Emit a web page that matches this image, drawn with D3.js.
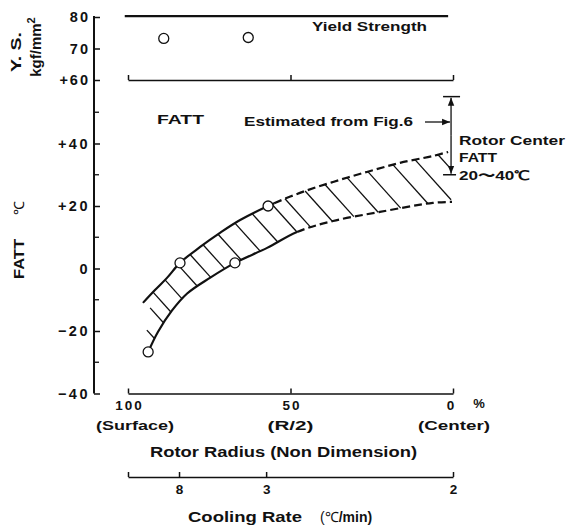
<!DOCTYPE html>
<html>
<head>
<meta charset="utf-8">
<script src="https://cdn.jsdelivr.net/npm/d3@7"></script>
<style>
  body { margin: 0; background: #fff; }
  text { font-family: "Liberation Sans", Arial, sans-serif; fill: #111; }
</style>
</head>
<body>
<div id="chart"></div>
<script>
///////////////////////////////////////////////////////////////////////////
// Data
///////////////////////////////////////////////////////////////////////////
const radiusTicks = [100, 50, 0];
const radiusTickLabels = ["100", "50", "0"];
const radiusNotes = ["(Surface)", "(R/2)", "(Center)"];

const ysTicks = [60, 70, 80];
const ysTickLabels = ["+60", "70", "80"];

const fattTicks = [-40, -20, 0, 20, 40];
const fattTickLabels = ["\u221240", "\u221220", "0", "+20", "+40"];
const fattMinorTicks = [-30, -10, 10, 30, 50];

// cooling rate scale sits under the radius scale
const coolingRadius = [100, 84.3, 57.5, 0];
const coolingLabels = ["", "8", "3", "2"];

const yieldLevel = 80.3;
const ysPoints = [
  { r: 89.0, ys: 73.2 },
  { r: 63.0, ys: 73.5 }
];

const fattPoints = [
  { r: 93.8, f: -26.7 },
  { r: 84.0, f: 1.8 },
  { r: 67.1, f: 1.8 },
  { r: 56.9, f: 20.0 }
];

// upper and lower edge of the FATT band
const upperBand = [
  { r: 95.4, f: -11.0 }, { r: 91.7, f: -6.9 }, { r: 88.0, f: -3.0 },
  { r: 84.0, f: 1.8 },   { r: 77.8, f: 6.9 },  { r: 71.7, f: 11.4 },
  { r: 65.5, f: 15.5 },  { r: 56.9, f: 20.0 }, { r: 47.1, f: 24.2 },
  { r: 36.9, f: 27.7 },  { r: 26.5, f: 30.9 }, { r: 16.3, f: 33.8 },
  { r: 6.2, f: 36.0 },   { r: 1.5, f: 37.3 }
];
const lowerBand = [
  { r: 93.8, f: -26.7 }, { r: 90.8, f: -20.3 }, { r: 86.5, f: -13.5 },
  { r: 81.8, f: -8.0 },  { r: 74.8, f: -3.0 },  { r: 67.1, f: 1.8 },
  { r: 57.2, f: 6.6 },   { r: 48.0, f: 11.7 },  { r: 36.9, f: 15.2 },
  { r: 22.5, f: 18.1 },  { r: 6.2, f: 21.0 },   { r: 0.3, f: 21.3 }
];
// where the band edges turn from measured (solid) to estimated (dashed)
const upperSolidTo = 55;
const lowerSolidTo = 48;

// hatch lines start on the upper edge at these radii
const hatchRadius = [92.3, 88.6, 84.6, 80.9, 76.9, 72.3, 67.1, 61.8, 55.7,
                     51.7, 45.5, 39.4, 32.6, 26.2, 18.5, 11.7, 4.6];
const hatchExtra = [{ r: 93.2, f: -12.6 }, { r: 94.2, f: -19.7 }];

const centerRange = [30, 55];   // Rotor center FATT bracket

///////////////////////////////////////////////////////////////////////////
// SVG + scales
///////////////////////////////////////////////////////////////////////////
const width = 566, height = 527;
const svg = d3.select("#chart").append("svg")
  .attr("width", width)
  .attr("height", height);

const axisX = 94;
const xR  = d3.scaleLinear().domain([100, 0]).range([128, 453]);
const yYS = d3.scaleLinear().domain([60, 80]).range([80, 17]);
const yF  = d3.scaleLinear().domain([-40, 40]).range([393.5, 143.5]);

function styleAxis(g, size, spacing) {
  g.select(".domain").attr("stroke", "#111").attr("stroke-width", 1.6);
  g.selectAll(".tick line").attr("stroke", "#111").attr("stroke-width", 1.5);
  g.selectAll(".tick text")
    .attr("font-family", "'Liberation Sans', Arial, sans-serif")
    .attr("font-weight", "bold")
    .attr("font-size", size)
    .attr("letter-spacing", spacing || 0)
    .attr("fill", "#111");
}

///////////////////////////////////////////////////////////////////////////
// Left axis (Y.S. on top, FATT below)
///////////////////////////////////////////////////////////////////////////
svg.append("line")
  .attr("x1", axisX).attr("x2", axisX)
  .attr("y1", yYS(80) - 1).attr("y2", yF(-40))
  .attr("stroke", "#111").attr("stroke-width", 2);

const gYS = svg.append("g")
  .attr("transform", `translate(${axisX},0)`)
  .call(d3.axisLeft(yYS).tickValues(ysTicks)
    .tickFormat(d => ysTickLabels[ysTicks.indexOf(d)])
    .tickSizeInner(-6).tickSizeOuter(0).tickPadding(4));
gYS.select(".domain").remove();
styleAxis(gYS, 14.5, 2);

const gF = svg.append("g")
  .attr("transform", `translate(${axisX},0)`)
  .call(d3.axisLeft(yF).tickValues(fattTicks)
    .tickFormat(d => fattTickLabels[fattTicks.indexOf(d)])
    .tickSizeInner(-6).tickSizeOuter(0).tickPadding(4));
gF.select(".domain").remove();
styleAxis(gF, 14.5, 2.5);

svg.append("g").selectAll("line")
  .data(fattMinorTicks)
  .join("line")
  .attr("x1", axisX).attr("x2", axisX + 5)
  .attr("y1", d => yF(d)).attr("y2", d => yF(d))
  .attr("stroke", "#111").attr("stroke-width", 1.3);

// rotated axis titles
function vText(x, y, str, size, len) {
  const t = svg.append("text")
    .attr("transform", `translate(${x},${y}) rotate(-90)`)
    .attr("text-anchor", "middle")
    .attr("font-weight", "bold")
    .attr("font-size", size)
    .text(str);
  if (len) t.attr("textLength", len).attr("lengthAdjust", "spacingAndGlyphs");
  return t;
}
vText(21, 52, "Y. S.", 15, 40);
const kgf = svg.append("text")
  .attr("transform", "translate(41,47) rotate(-90)")
  .attr("text-anchor", "middle")
  .attr("font-weight", "bold")
  .attr("font-size", 15);
kgf.append("tspan").text("kgf/mm");
kgf.append("tspan").attr("dy", -6).attr("font-size", 11).text("2");
vText(24, 259, "FATT", 15, 40);
vText(24, 208, "\u2103", 14).attr("font-weight", "normal");

///////////////////////////////////////////////////////////////////////////
// Horizontal scales
///////////////////////////////////////////////////////////////////////////
// baseline of the Y.S. panel
const gTop = svg.append("g")
  .attr("transform", `translate(0,${yYS(60)})`)
  .call(d3.axisBottom(xR).tickValues(radiusTicks).tickFormat("")
    .tickSizeInner(-5).tickSizeOuter(0));
styleAxis(gTop, 12);

// radius scale
const gR = svg.append("g")
  .attr("transform", `translate(0,${yF(-40)})`)
  .call(d3.axisBottom(xR).tickValues(radiusTicks)
    .tickFormat(d => radiusTickLabels[radiusTicks.indexOf(d)])
    .tickSizeInner(-5).tickSizeOuter(0).tickPadding(7));
styleAxis(gR, 13.5, 2);
gR.selectAll(".tick text").attr("dx", (d, i) => [1, 1, -2][i]);

svg.append("text")
  .attr("x", xR(0) + 26).attr("y", 408)
  .attr("text-anchor", "middle")
  .attr("font-weight", "bold").attr("font-size", 13)
  .text("%");

svg.append("g").selectAll("text")
  .data(radiusTicks)
  .join("text")
  .attr("x", (d, i) => xR(d) + [7, 0, 1][i])
  .attr("y", 430)
  .attr("text-anchor", "middle")
  .attr("font-weight", "bold")
  .attr("font-size", 13.5)
  .attr("textLength", (d, i) => [78, 46, 72][i])
  .attr("lengthAdjust", "spacingAndGlyphs")
  .text((d, i) => radiusNotes[i]);

svg.append("text")
  .attr("x", 150).attr("y", 457)
  .attr("font-weight", "bold").attr("font-size", 14)
  .attr("textLength", 267).attr("lengthAdjust", "spacingAndGlyphs")
  .text("Rotor Radius (Non Dimension)");

// cooling rate scale
const gC = svg.append("g")
  .attr("transform", "translate(0,477)")
  .call(d3.axisBottom(xR).tickValues(coolingRadius)
    .tickFormat(d => coolingLabels[coolingRadius.indexOf(d)])
    .tickSizeInner(-5).tickSizeOuter(0).tickPadding(7));
styleAxis(gC, 13.5);

const cool = svg.append("text")
  .attr("x", 188).attr("y", 522)
  .attr("font-size", 14);
cool.append("tspan").attr("font-weight", "bold")
  .attr("textLength", 114).attr("lengthAdjust", "spacingAndGlyphs")
  .text("Cooling Rate");
cool.append("tspan").attr("x", 320).text("(\u2103");
cool.append("tspan").attr("font-weight", "bold").text("/min)");

///////////////////////////////////////////////////////////////////////////
// Yield strength panel
///////////////////////////////////////////////////////////////////////////
svg.append("line")
  .attr("x1", xR(101)).attr("x2", xR(1.5))
  .attr("y1", yYS(yieldLevel)).attr("y2", yYS(yieldLevel))
  .attr("stroke", "#111").attr("stroke-width", 2.2);

svg.append("text")
  .attr("x", 312).attr("y", 31)
  .attr("font-weight", "bold").attr("font-size", 13)
  .attr("textLength", 115).attr("lengthAdjust", "spacingAndGlyphs")
  .text("Yield Strength");

svg.append("g").selectAll("circle")
  .data(ysPoints)
  .join("circle")
  .attr("cx", d => xR(d.r))
  .attr("cy", d => yYS(d.ys))
  .attr("r", 5)
  .attr("fill", "#fff").attr("stroke", "#111").attr("stroke-width", 1.3);

///////////////////////////////////////////////////////////////////////////
// FATT band
///////////////////////////////////////////////////////////////////////////
const line = d3.line()
  .x(d => xR(d.r))
  .y(d => yF(d.f))
  .curve(d3.curveCatmullRom.alpha(0.5));

const gBand = svg.append("g");

function lengthAtX(path, x) {
  const total = path.getTotalLength();
  let lo = 0, hi = total;
  for (let k = 0; k < 40; k++) {
    const mid = (lo + hi) / 2;
    if (path.getPointAtLength(mid).x < x) lo = mid; else hi = mid;
  }
  return (lo + hi) / 2;
}

function drawEdge(data, solidTo) {
  const solid = gBand.append("path")
    .attr("d", line(data))
    .attr("fill", "none").attr("stroke", "#111")
    .attr("stroke-width", 2.2);
  const node = solid.node();
  const total = node.getTotalLength();
  const ls = lengthAtX(node, xR(solidTo));
  solid.attr("stroke-dasharray", `${ls} ${total + 20}`);
  // dashed beyond the split
  gBand.append("path")
    .attr("d", line(data))
    .attr("fill", "none").attr("stroke", "#111")
    .attr("stroke-width", 2.2)
    .attr("stroke-dasharray", `0 ${ls} ` + d3.range(60).map(() => "8 4").join(" "));
  return node;
}

const upperNode = drawEdge(upperBand, upperSolidTo);
const lowerNode = drawEdge(lowerBand, lowerSolidTo);

// sample the lower edge for hatch intersections
const lowerTotal = lowerNode.getTotalLength();
const lowerPts = d3.range(0, lowerTotal, 0.5).map(l => lowerNode.getPointAtLength(l));

const ang = 48 * Math.PI / 180;
const dir = { x: Math.cos(ang), y: Math.sin(ang) };
const xStop = xR(0.6);

function hatchFrom(p) {
  let end = null;
  for (let i = 1; i < lowerPts.length; i++) {
    const a = lowerPts[i - 1], b = lowerPts[i];
    const ca = (a.x - p.x) * dir.y - (a.y - p.y) * dir.x;
    const cb = (b.x - p.x) * dir.y - (b.y - p.y) * dir.x;
    if (ca * cb <= 0) {
      const t = ca / (ca - cb);
      const q = { x: a.x + (b.x - a.x) * t, y: a.y + (b.y - a.y) * t };
      if ((q.x - p.x) * dir.x + (q.y - p.y) * dir.y > 0) { end = q; break; }
    }
  }
  if (!end || end.x > xStop) end = { x: xStop, y: p.y + (xStop - p.x) * dir.y / dir.x };
  return { x1: p.x, y1: p.y, x2: end.x, y2: end.y };
}

const hatchStarts = hatchRadius.map(r => {
  const l = lengthAtX(upperNode, xR(r));
  return upperNode.getPointAtLength(l);
}).concat(hatchExtra.map(d => ({ x: xR(d.r), y: yF(d.f) })));

gBand.append("g").selectAll("line")
  .data(hatchStarts.map(hatchFrom))
  .join("line")
  .attr("x1", d => d.x1).attr("y1", d => d.y1)
  .attr("x2", d => d.x2).attr("y2", d => d.y2)
  .attr("stroke", "#111").attr("stroke-width", 1.3);

svg.append("g").selectAll("circle")
  .data(fattPoints)
  .join("circle")
  .attr("cx", d => xR(d.r))
  .attr("cy", d => yF(d.f))
  .attr("r", 5)
  .attr("fill", "#fff").attr("stroke", "#111").attr("stroke-width", 1.3);

///////////////////////////////////////////////////////////////////////////
// Annotations
///////////////////////////////////////////////////////////////////////////
svg.append("text")
  .attr("x", 157).attr("y", 124)
  .attr("font-weight", "bold").attr("font-size", 13)
  .attr("textLength", 47).attr("lengthAdjust", "spacingAndGlyphs")
  .text("FATT");

svg.append("text")
  .attr("x", 244).attr("y", 126)
  .attr("font-weight", "bold").attr("font-size", 12)
  .attr("textLength", 169).attr("lengthAdjust", "spacingAndGlyphs")
  .text("Estimated from Fig.6");

const defs = svg.append("defs");
defs.append("marker")
  .attr("id", "arr")
  .attr("viewBox", "0 0 10 10")
  .attr("refX", 10).attr("refY", 5)
  .attr("markerWidth", 8).attr("markerHeight", 9)
  .attr("markerUnits", "userSpaceOnUse")
  .attr("orient", "auto")
  .append("path")
  .attr("d", "M0,1L10,5L0,9Z")
  .attr("fill", "#111");

const ax = xR(0.6);
const yTop = yF(centerRange[1]);
const yBot = yF(centerRange[0]);

svg.append("line")
  .attr("x1", 425).attr("x2", ax - 1)
  .attr("y1", 122).attr("y2", 122)
  .attr("stroke", "#111").attr("stroke-width", 1.3)
  .attr("marker-end", "url(#arr)");

svg.append("line")
  .attr("x1", ax).attr("x2", ax)
  .attr("y1", (yTop + yBot) / 2).attr("y2", yTop + 1)
  .attr("stroke", "#111").attr("stroke-width", 1.3)
  .attr("marker-end", "url(#arr)");
svg.append("line")
  .attr("x1", ax).attr("x2", ax)
  .attr("y1", (yTop + yBot) / 2).attr("y2", yBot - 1)
  .attr("stroke", "#111").attr("stroke-width", 1.3)
  .attr("marker-end", "url(#arr)");

svg.append("line")
  .attr("x1", ax - 8).attr("x2", ax + 9)
  .attr("y1", yTop).attr("y2", yTop)
  .attr("stroke", "#111").attr("stroke-width", 1.5);
svg.append("line")
  .attr("x1", ax - 8).attr("x2", ax + 5)
  .attr("y1", yBot).attr("y2", yBot)
  .attr("stroke", "#111").attr("stroke-width", 1.5);

const noteLines = [
  { text: "Rotor Center", y: 145, len: 106 },
  { text: "FATT", y: 162, len: 38 },
  { text: "20\u301c40\u2103", y: 180, len: 71 }
];
svg.append("g").selectAll("text")
  .data(noteLines)
  .join("text")
  .attr("x", 459)
  .attr("y", d => d.y)
  .attr("font-weight", "bold")
  .attr("font-size", 13)
  .attr("textLength", d => d.len)
  .attr("lengthAdjust", "spacingAndGlyphs")
  .text(d => d.text);
</script>
</body>
</html>
